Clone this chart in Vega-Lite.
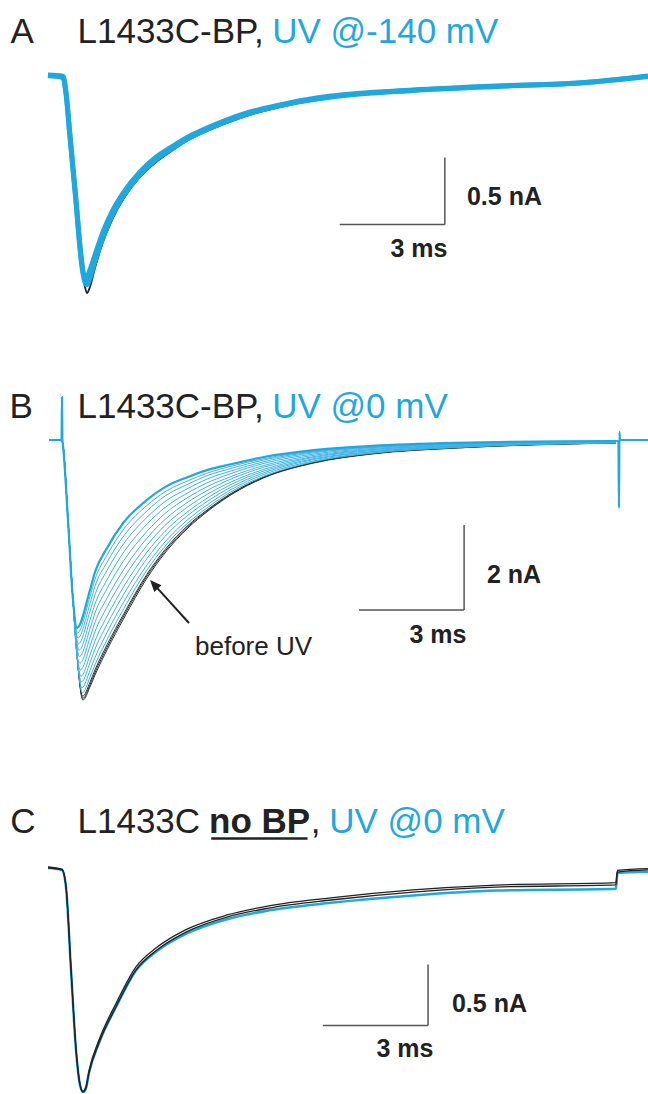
{
"$schema": "https://vega.github.io/schema/vega-lite/v6.json",
"padding": 0,
"spacing": 0,
"bounds": "flush",
"background": "white",
"config": {"view": {"stroke": null}, "axis": {"disable": true}, "legend": {"disable": true}, "line": {"interpolate": "monotone"}},
"datasets": {
"A_pre": [
{"t":-0.43,"I":0.007},{"t":-0.002,"I":-0.015},{"t":0.084,"I":-0.134},{"t":0.198,"I":-0.47},{"t":0.37,"I":-0.955},{"t":0.512,"I":-1.381},{"t":0.626,"I":-1.567},{"t":0.684,"I":-1.612},{"t":0.769,"I":-1.567},{"t":0.912,"I":-1.425},{"t":1.14,"I":-1.231},{"t":1.397,"I":-1.067},{"t":1.74,"I":-0.903},{"t":2.197,"I":-0.746},{"t":2.625,"I":-0.642},{"t":3.139,"I":-0.545},{"t":3.624,"I":-0.463},{"t":4.109,"I":-0.403},{"t":5.051,"I":-0.306},{"t":6.45,"I":-0.209},{"t":7.649,"I":-0.157},{"t":9.99,"I":-0.104},{"t":12.359,"I":-0.075},{"t":14.729,"I":-0.045},{"t":16.699,"I":0}
],
"A_uv": [
{"trace":"u1","t":-0.43,"I":0.01},{"trace":"u1","t":-0.002,"I":0},{"trace":"u1","t":0.084,"I":-0.123},{"trace":"u1","t":0.198,"I":-0.45},{"trace":"u1","t":0.37,"I":-0.935},{"trace":"u1","t":0.512,"I":-1.355},{"trace":"u1","t":0.626,"I":-1.53},{"trace":"u1","t":0.684,"I":-1.55},{"trace":"u1","t":0.769,"I":-1.5},{"trace":"u1","t":0.912,"I":-1.375},{"trace":"u1","t":1.14,"I":-1.195},{"trace":"u1","t":1.397,"I":-1.035},{"trace":"u1","t":1.74,"I":-0.88},{"trace":"u1","t":2.197,"I":-0.727},{"trace":"u1","t":2.625,"I":-0.623},{"trace":"u1","t":3.139,"I":-0.53},{"trace":"u1","t":3.624,"I":-0.452},{"trace":"u1","t":4.109,"I":-0.392},{"trace":"u1","t":5.051,"I":-0.295},{"trace":"u1","t":6.45,"I":-0.2},{"trace":"u1","t":7.649,"I":-0.15},{"trace":"u1","t":9.99,"I":-0.1},{"trace":"u1","t":12.359,"I":-0.07},{"trace":"u1","t":14.729,"I":-0.045},{"trace":"u1","t":16.699,"I":0.004},
{"trace":"u2","t":-0.43,"I":0.015},{"trace":"u2","t":-0.002,"I":0.007},{"trace":"u2","t":0.084,"I":-0.112},{"trace":"u2","t":0.198,"I":-0.433},{"trace":"u2","t":0.37,"I":-0.918},{"trace":"u2","t":0.512,"I":-1.328},{"trace":"u2","t":0.598,"I":-1.485},{"trace":"u2","t":0.655,"I":-1.5},{"trace":"u2","t":0.769,"I":-1.44},{"trace":"u2","t":0.912,"I":-1.328},{"trace":"u2","t":1.14,"I":-1.157},{"trace":"u2","t":1.397,"I":-1.007},{"trace":"u2","t":1.74,"I":-0.858},{"trace":"u2","t":2.197,"I":-0.709},{"trace":"u2","t":2.625,"I":-0.604},{"trace":"u2","t":3.139,"I":-0.515},{"trace":"u2","t":3.624,"I":-0.44},{"trace":"u2","t":4.109,"I":-0.381},{"trace":"u2","t":5.051,"I":-0.284},{"trace":"u2","t":6.45,"I":-0.194},{"trace":"u2","t":7.649,"I":-0.142},{"trace":"u2","t":9.99,"I":-0.097},{"trace":"u2","t":12.359,"I":-0.067},{"trace":"u2","t":14.729,"I":-0.045},{"trace":"u2","t":16.699,"I":0.007}
],
"B_pre": [
{"trace":"p1","t":-0.401,"I":0},{"trace":"p1","t":-0.042,"I":0},{"trace":"p1","t":-0.002,"I":-0.118},{"trace":"p1","t":0.141,"I":-1.882},{"trace":"p1","t":0.284,"I":-3.765},{"trace":"p1","t":0.398,"I":-5.059},{"trace":"p1","t":0.569,"I":-6.12},{"trace":"p1","t":0.769,"I":-5.81},{"trace":"p1","t":0.912,"I":-5.53},{"trace":"p1","t":1.255,"I":-4.94},{"trace":"p1","t":1.74,"I":-4.19},{"trace":"p1","t":2.396,"I":-3.25},{"trace":"p1","t":2.91,"I":-2.66},{"trace":"p1","t":3.567,"I":-2.07},{"trace":"p1","t":4.109,"I":-1.69},{"trace":"p1","t":4.794,"I":-1.29},{"trace":"p1","t":5.736,"I":-0.89},{"trace":"p1","t":7.164,"I":-0.54},{"trace":"p1","t":8.82,"I":-0.33},{"trace":"p1","t":11.189,"I":-0.19},{"trace":"p1","t":15.785,"I":-0.07},
{"trace":"p2","t":-0.401,"I":0},{"trace":"p2","t":-0.042,"I":0},{"trace":"p2","t":-0.002,"I":-0.118},{"trace":"p2","t":0.141,"I":-1.882},{"trace":"p2","t":0.284,"I":-3.765},{"trace":"p2","t":0.398,"I":-5.059},{"trace":"p2","t":0.565,"I":-6.08},{"trace":"p2","t":0.769,"I":-5.76},{"trace":"p2","t":0.912,"I":-5.47},{"trace":"p2","t":1.255,"I":-4.88},{"trace":"p2","t":1.74,"I":-4.13},{"trace":"p2","t":2.396,"I":-3.2},{"trace":"p2","t":2.91,"I":-2.62},{"trace":"p2","t":3.567,"I":-2.04},{"trace":"p2","t":4.109,"I":-1.67},{"trace":"p2","t":4.794,"I":-1.28},{"trace":"p2","t":5.736,"I":-0.88},{"trace":"p2","t":7.164,"I":-0.53},{"trace":"p2","t":8.82,"I":-0.32},{"trace":"p2","t":11.189,"I":-0.19},{"trace":"p2","t":15.785,"I":-0.07},
{"trace":"p3","t":-0.401,"I":0},{"trace":"p3","t":-0.042,"I":0},{"trace":"p3","t":-0.002,"I":-0.118},{"trace":"p3","t":0.141,"I":-1.882},{"trace":"p3","t":0.284,"I":-3.765},{"trace":"p3","t":0.398,"I":-5.059},{"trace":"p3","t":0.56,"I":-6.03},{"trace":"p3","t":0.769,"I":-5.7},{"trace":"p3","t":0.912,"I":-5.41},{"trace":"p3","t":1.255,"I":-4.82},{"trace":"p3","t":1.74,"I":-4.08},{"trace":"p3","t":2.396,"I":-3.16},{"trace":"p3","t":2.91,"I":-2.58},{"trace":"p3","t":3.567,"I":-2.01},{"trace":"p3","t":4.109,"I":-1.65},{"trace":"p3","t":4.794,"I":-1.26},{"trace":"p3","t":5.736,"I":-0.87},{"trace":"p3","t":7.164,"I":-0.53},{"trace":"p3","t":8.82,"I":-0.32},{"trace":"p3","t":11.189,"I":-0.18},{"trace":"p3","t":15.785,"I":-0.07}
],
"B_uv": [
{"trace":"u01","t":-0.401,"I":0},{"trace":"u01","t":-0.042,"I":0},{"trace":"u01","t":-0.002,"I":-0.118},{"trace":"u01","t":0.141,"I":-1.882},{"trace":"u01","t":0.284,"I":-3.765},{"trace":"u01","t":0.398,"I":-5.059},{"trace":"u01","t":0.552,"I":-5.95},{"trace":"u01","t":0.769,"I":-5.58},{"trace":"u01","t":0.912,"I":-5.29},{"trace":"u01","t":1.255,"I":-4.7},{"trace":"u01","t":1.74,"I":-3.96},{"trace":"u01","t":2.396,"I":-3.06},{"trace":"u01","t":2.91,"I":-2.5},{"trace":"u01","t":3.567,"I":-1.95},{"trace":"u01","t":4.109,"I":-1.6},{"trace":"u01","t":4.794,"I":-1.22},{"trace":"u01","t":5.736,"I":-0.85},{"trace":"u01","t":7.164,"I":-0.51},{"trace":"u01","t":8.82,"I":-0.31},{"trace":"u01","t":11.189,"I":-0.18},{"trace":"u01","t":15.785,"I":-0.07},
{"trace":"u02","t":-0.401,"I":0},{"trace":"u02","t":-0.042,"I":0},{"trace":"u02","t":-0.002,"I":-0.118},{"trace":"u02","t":0.141,"I":-1.882},{"trace":"u02","t":0.284,"I":-3.765},{"trace":"u02","t":0.398,"I":-5.059},{"trace":"u02","t":0.54,"I":-5.83},{"trace":"u02","t":0.769,"I":-5.42},{"trace":"u02","t":0.912,"I":-5.12},{"trace":"u02","t":1.255,"I":-4.53},{"trace":"u02","t":1.74,"I":-3.8},{"trace":"u02","t":2.396,"I":-2.94},{"trace":"u02","t":2.91,"I":-2.4},{"trace":"u02","t":3.567,"I":-1.87},{"trace":"u02","t":4.109,"I":-1.53},{"trace":"u02","t":4.794,"I":-1.17},{"trace":"u02","t":5.736,"I":-0.81},{"trace":"u02","t":7.164,"I":-0.49},{"trace":"u02","t":8.82,"I":-0.3},{"trace":"u02","t":11.189,"I":-0.17},{"trace":"u02","t":15.785,"I":-0.06},
{"trace":"u03","t":-0.401,"I":0},{"trace":"u03","t":-0.042,"I":0},{"trace":"u03","t":-0.002,"I":-0.118},{"trace":"u03","t":0.141,"I":-1.882},{"trace":"u03","t":0.284,"I":-3.765},{"trace":"u03","t":0.398,"I":-5.059},{"trace":"u03","t":0.526,"I":-5.69},{"trace":"u03","t":0.769,"I":-5.24},{"trace":"u03","t":0.912,"I":-4.92},{"trace":"u03","t":1.255,"I":-4.34},{"trace":"u03","t":1.74,"I":-3.62},{"trace":"u03","t":2.396,"I":-2.79},{"trace":"u03","t":2.91,"I":-2.27},{"trace":"u03","t":3.567,"I":-1.77},{"trace":"u03","t":4.109,"I":-1.45},{"trace":"u03","t":4.794,"I":-1.11},{"trace":"u03","t":5.736,"I":-0.77},{"trace":"u03","t":7.164,"I":-0.46},{"trace":"u03","t":8.82,"I":-0.28},{"trace":"u03","t":11.189,"I":-0.16},{"trace":"u03","t":15.785,"I":-0.06},
{"trace":"u04","t":-0.401,"I":0},{"trace":"u04","t":-0.042,"I":0},{"trace":"u04","t":-0.002,"I":-0.118},{"trace":"u04","t":0.141,"I":-1.882},{"trace":"u04","t":0.284,"I":-3.765},{"trace":"u04","t":0.398,"I":-5.059},{"trace":"u04","t":0.512,"I":-5.56},{"trace":"u04","t":0.769,"I":-5.06},{"trace":"u04","t":0.912,"I":-4.73},{"trace":"u04","t":1.255,"I":-4.15},{"trace":"u04","t":1.74,"I":-3.44},{"trace":"u04","t":2.396,"I":-2.64},{"trace":"u04","t":2.91,"I":-2.15},{"trace":"u04","t":3.567,"I":-1.68},{"trace":"u04","t":4.109,"I":-1.37},{"trace":"u04","t":4.794,"I":-1.05},{"trace":"u04","t":5.736,"I":-0.73},{"trace":"u04","t":7.164,"I":-0.44},{"trace":"u04","t":8.82,"I":-0.27},{"trace":"u04","t":11.189,"I":-0.15},{"trace":"u04","t":15.785,"I":-0.055},
{"trace":"u05","t":-0.401,"I":0},{"trace":"u05","t":-0.042,"I":0},{"trace":"u05","t":-0.002,"I":-0.118},{"trace":"u05","t":0.141,"I":-1.882},{"trace":"u05","t":0.284,"I":-3.765},{"trace":"u05","t":0.398,"I":-5.059},{"trace":"u05","t":0.497,"I":-5.41},{"trace":"u05","t":0.769,"I":-4.85},{"trace":"u05","t":0.912,"I":-4.51},{"trace":"u05","t":1.255,"I":-3.93},{"trace":"u05","t":1.74,"I":-3.24},{"trace":"u05","t":2.396,"I":-2.48},{"trace":"u05","t":2.91,"I":-2.01},{"trace":"u05","t":3.567,"I":-1.57},{"trace":"u05","t":4.109,"I":-1.28},{"trace":"u05","t":4.794,"I":-0.99},{"trace":"u05","t":5.736,"I":-0.69},{"trace":"u05","t":7.164,"I":-0.41},{"trace":"u05","t":8.82,"I":-0.25},{"trace":"u05","t":11.189,"I":-0.14},{"trace":"u05","t":15.785,"I":-0.05},
{"trace":"u06","t":-0.401,"I":0},{"trace":"u06","t":-0.042,"I":0},{"trace":"u06","t":-0.002,"I":-0.118},{"trace":"u06","t":0.141,"I":-1.882},{"trace":"u06","t":0.284,"I":-3.765},{"trace":"u06","t":0.398,"I":-5.059},{"trace":"u06","t":0.482,"I":-5.25},{"trace":"u06","t":0.769,"I":-4.65},{"trace":"u06","t":0.912,"I":-4.29},{"trace":"u06","t":1.255,"I":-3.72},{"trace":"u06","t":1.74,"I":-3.04},{"trace":"u06","t":2.396,"I":-2.31},{"trace":"u06","t":2.91,"I":-1.87},{"trace":"u06","t":3.567,"I":-1.46},{"trace":"u06","t":4.109,"I":-1.19},{"trace":"u06","t":4.794,"I":-0.92},{"trace":"u06","t":5.736,"I":-0.64},{"trace":"u06","t":7.164,"I":-0.39},{"trace":"u06","t":8.82,"I":-0.23},{"trace":"u06","t":11.189,"I":-0.13},{"trace":"u06","t":15.785,"I":-0.047},
{"trace":"u07","t":-0.401,"I":0},{"trace":"u07","t":-0.042,"I":0},{"trace":"u07","t":-0.002,"I":-0.118},{"trace":"u07","t":0.141,"I":-1.882},{"trace":"u07","t":0.284,"I":-3.765},{"trace":"u07","t":0.466,"I":-5.1},{"trace":"u07","t":0.769,"I":-4.44},{"trace":"u07","t":0.912,"I":-4.07},{"trace":"u07","t":1.255,"I":-3.5},{"trace":"u07","t":1.74,"I":-2.83},{"trace":"u07","t":2.396,"I":-2.15},{"trace":"u07","t":2.91,"I":-1.73},{"trace":"u07","t":3.567,"I":-1.35},{"trace":"u07","t":4.109,"I":-1.1},{"trace":"u07","t":4.794,"I":-0.86},{"trace":"u07","t":5.736,"I":-0.6},{"trace":"u07","t":7.164,"I":-0.36},{"trace":"u07","t":8.82,"I":-0.22},{"trace":"u07","t":11.189,"I":-0.12},{"trace":"u07","t":15.785,"I":-0.043},
{"trace":"u08","t":-0.401,"I":0},{"trace":"u08","t":-0.042,"I":0},{"trace":"u08","t":-0.002,"I":-0.118},{"trace":"u08","t":0.141,"I":-1.882},{"trace":"u08","t":0.284,"I":-3.765},{"trace":"u08","t":0.451,"I":-4.95},{"trace":"u08","t":0.769,"I":-4.24},{"trace":"u08","t":0.912,"I":-3.86},{"trace":"u08","t":1.255,"I":-3.29},{"trace":"u08","t":1.74,"I":-2.63},{"trace":"u08","t":2.396,"I":-1.98},{"trace":"u08","t":2.91,"I":-1.59},{"trace":"u08","t":3.567,"I":-1.24},{"trace":"u08","t":4.109,"I":-1.01},{"trace":"u08","t":4.794,"I":-0.79},{"trace":"u08","t":5.736,"I":-0.55},{"trace":"u08","t":7.164,"I":-0.33},{"trace":"u08","t":8.82,"I":-0.2},{"trace":"u08","t":11.189,"I":-0.11},{"trace":"u08","t":15.785,"I":-0.039},
{"trace":"u09","t":-0.401,"I":0},{"trace":"u09","t":-0.042,"I":0},{"trace":"u09","t":-0.002,"I":-0.118},{"trace":"u09","t":0.141,"I":-1.882},{"trace":"u09","t":0.284,"I":-3.765},{"trace":"u09","t":0.435,"I":-4.8},{"trace":"u09","t":0.769,"I":-4.03},{"trace":"u09","t":0.912,"I":-3.64},{"trace":"u09","t":1.255,"I":-3.07},{"trace":"u09","t":1.74,"I":-2.43},{"trace":"u09","t":2.396,"I":-1.82},{"trace":"u09","t":2.91,"I":-1.45},{"trace":"u09","t":3.567,"I":-1.14},{"trace":"u09","t":4.109,"I":-0.92},{"trace":"u09","t":4.794,"I":-0.73},{"trace":"u09","t":5.736,"I":-0.51},{"trace":"u09","t":7.164,"I":-0.3},{"trace":"u09","t":8.82,"I":-0.18},{"trace":"u09","t":11.189,"I":-0.1},{"trace":"u09","t":15.785,"I":-0.034},
{"trace":"u10","t":-0.401,"I":0},{"trace":"u10","t":-0.042,"I":0},{"trace":"u10","t":-0.002,"I":-0.118},{"trace":"u10","t":0.141,"I":-1.882},{"trace":"u10","t":0.284,"I":-3.765},{"trace":"u10","t":0.422,"I":-4.66},{"trace":"u10","t":0.769,"I":-3.85},{"trace":"u10","t":0.912,"I":-3.44},{"trace":"u10","t":1.255,"I":-2.88},{"trace":"u10","t":1.74,"I":-2.25},{"trace":"u10","t":2.396,"I":-1.67},{"trace":"u10","t":2.91,"I":-1.32},{"trace":"u10","t":3.567,"I":-1.04},{"trace":"u10","t":4.109,"I":-0.84},{"trace":"u10","t":4.794,"I":-0.67},{"trace":"u10","t":5.736,"I":-0.47},{"trace":"u10","t":7.164,"I":-0.28},{"trace":"u10","t":8.82,"I":-0.17},{"trace":"u10","t":11.189,"I":-0.09},{"trace":"u10","t":15.785,"I":-0.03},
{"trace":"u11","t":-0.401,"I":0},{"trace":"u11","t":-0.042,"I":0},{"trace":"u11","t":-0.002,"I":-0.118},{"trace":"u11","t":0.141,"I":-1.882},{"trace":"u11","t":0.284,"I":-3.765},{"trace":"u11","t":0.41,"I":-4.54},{"trace":"u11","t":0.769,"I":-3.69},{"trace":"u11","t":0.912,"I":-3.28},{"trace":"u11","t":1.255,"I":-2.71},{"trace":"u11","t":1.74,"I":-2.09},{"trace":"u11","t":2.396,"I":-1.54},{"trace":"u11","t":2.91,"I":-1.22},{"trace":"u11","t":3.567,"I":-0.96},{"trace":"u11","t":4.109,"I":-0.78},{"trace":"u11","t":4.794,"I":-0.62},{"trace":"u11","t":5.736,"I":-0.44},{"trace":"u11","t":7.164,"I":-0.26},{"trace":"u11","t":8.82,"I":-0.15},{"trace":"u11","t":11.189,"I":-0.08},{"trace":"u11","t":15.785,"I":-0.027}
],
"B_top": [
{"t":-0.401,"I":0},{"t":-0.042,"I":0},{"t":-0.03,"I":1.01},{"t":-0.019,"I":0},{"t":-0.002,"I":-0.118},{"t":0.141,"I":-1.882},{"t":0.284,"I":-3.765},{"t":0.398,"I":-4.42},{"t":0.769,"I":-3.53},{"t":0.912,"I":-3.11},{"t":1.255,"I":-2.54},{"t":1.74,"I":-1.93},{"t":2.396,"I":-1.41},{"t":2.91,"I":-1.11},{"t":3.567,"I":-0.87},{"t":4.109,"I":-0.71},{"t":4.794,"I":-0.57},{"t":5.736,"I":-0.4},{"t":7.164,"I":-0.24},{"t":8.82,"I":-0.14},{"t":11.189,"I":-0.07},{"t":15.785,"I":-0.024},{"t":15.856,"I":-0.03},{"t":15.871,"I":-1.6},{"t":15.885,"I":0.19},{"t":15.899,"I":0},{"t":16.699,"I":0}
],
"C_pre": [
{"trace":"k1","t":-0.43,"I":0},{"trace":"k1","t":-0.03,"I":-0.016},{"trace":"k1","t":0.084,"I":-0.156},{"trace":"k1","t":0.227,"I":-0.836},{"trace":"k1","t":0.37,"I":-1.492},{"trace":"k1","t":0.484,"I":-1.779},{"trace":"k1","t":0.569,"I":-1.836},{"trace":"k1","t":0.655,"I":-1.803},{"trace":"k1","t":0.741,"I":-1.68},{"trace":"k1","t":1.026,"I":-1.434},{"trace":"k1","t":1.511,"I":-1.139},{"trace":"k1","t":2.082,"I":-0.836},{"trace":"k1","t":2.682,"I":-0.672},{"trace":"k1","t":3.51,"I":-0.525},{"trace":"k1","t":4.68,"I":-0.402},{"trace":"k1","t":5.879,"I":-0.328},{"trace":"k1","t":7.649,"I":-0.262},{"trace":"k1","t":9.99,"I":-0.197},{"trace":"k1","t":12.359,"I":-0.156},{"trace":"k1","t":15.785,"I":-0.139},{"trace":"k1","t":15.827,"I":-0.033},{"trace":"k1","t":16.699,"I":-0.016},
{"trace":"k2","t":-0.43,"I":0.01},{"trace":"k2","t":-0.03,"I":-0.01},{"trace":"k2","t":0.084,"I":-0.15},{"trace":"k2","t":0.227,"I":-0.82},{"trace":"k2","t":0.37,"I":-1.48},{"trace":"k2","t":0.484,"I":-1.77},{"trace":"k2","t":0.569,"I":-1.83},{"trace":"k2","t":0.655,"I":-1.79},{"trace":"k2","t":0.741,"I":-1.66},{"trace":"k2","t":1.026,"I":-1.41},{"trace":"k2","t":1.511,"I":-1.11},{"trace":"k2","t":2.082,"I":-0.81},{"trace":"k2","t":2.682,"I":-0.65},{"trace":"k2","t":3.51,"I":-0.505},{"trace":"k2","t":4.68,"I":-0.385},{"trace":"k2","t":5.879,"I":-0.31},{"trace":"k2","t":7.649,"I":-0.245},{"trace":"k2","t":9.99,"I":-0.18},{"trace":"k2","t":12.359,"I":-0.14},{"trace":"k2","t":15.785,"I":-0.12},{"trace":"k2","t":15.827,"I":-0.02},{"trace":"k2","t":16.699,"I":-0.005}
],
"C_uv": [
{"t":-0.43,"I":0},{"t":-0.03,"I":-0.016},{"t":0.084,"I":-0.156},{"t":0.227,"I":-0.836},{"t":0.37,"I":-1.492},{"t":0.484,"I":-1.779},{"t":0.569,"I":-1.836},{"t":0.655,"I":-1.803},{"t":0.741,"I":-1.68},{"t":1.026,"I":-1.434},{"t":1.511,"I":-1.139},{"t":2.082,"I":-0.84},{"t":2.682,"I":-0.68},{"t":3.51,"I":-0.54},{"t":4.68,"I":-0.42},{"t":5.879,"I":-0.347},{"t":7.649,"I":-0.285},{"t":9.99,"I":-0.225},{"t":12.359,"I":-0.185},{"t":15.785,"I":-0.17},{"t":15.827,"I":-0.04},{"t":16.699,"I":-0.03}
]
},
"vconcat": [
{
"width": 648, "height": 330,
"layer": [
{"data": {"name": "A_pre"}, "mark": {"type": "line", "color": "#222222", "strokeWidth": 1.8},
 "encoding": {"x": {"field": "t", "type": "quantitative", "scale": {"domain": [-1.8, 16.7], "nice": false, "zero": false}}, "y": {"field": "I", "type": "quantitative", "scale": {"domain": [-1.888, 0.575], "nice": false, "zero": false}}}},
{"data": {"name": "A_uv"}, "mark": {"type": "line", "color": "#1fa8e0", "strokeWidth": 5},
 "encoding": {"detail": {"field": "trace"}, "x": {"field": "t", "type": "quantitative", "scale": {"domain": [-1.8, 16.7], "nice": false, "zero": false}}, "y": {"field": "I", "type": "quantitative", "scale": {"domain": [-1.888, 0.575], "nice": false, "zero": false}}}},
{"data": {"values": [{}]}, "mark": {"type": "rule", "color": "#555555", "strokeWidth": 1.5},
 "encoding": {"x": {"datum": 7.9, "type": "quantitative", "scale": {"domain": [-1.8, 16.7], "nice": false, "zero": false}}, "x2": {"datum": 10.9}, "y": {"datum": -1.1, "type": "quantitative", "scale": {"domain": [-1.888, 0.575], "nice": false, "zero": false}}}},
{"data": {"values": [{}]}, "mark": {"type": "rule", "color": "#555555", "strokeWidth": 1.5},
 "encoding": {"x": {"datum": 10.9, "type": "quantitative", "scale": {"domain": [-1.8, 16.7], "nice": false, "zero": false}}, "y": {"datum": -0.6, "type": "quantitative", "scale": {"domain": [-1.888, 0.575], "nice": false, "zero": false}}, "y2": {"datum": -1.1}}},
{"data": {"values": [{}]}, "mark": {"type": "text", "text": "0.5 nA", "font": "Liberation Sans", "fontWeight": "bold", "fontSize": 25, "align": "left", "baseline": "alphabetic", "color": "#222222"},
 "encoding": {"x": {"datum": 11.531, "type": "quantitative", "scale": {"domain": [-1.8, 16.7], "nice": false, "zero": false}}, "y": {"datum": -0.955, "type": "quantitative", "scale": {"domain": [-1.888, 0.575], "nice": false, "zero": false}}}},
{"data": {"values": [{}]}, "mark": {"type": "text", "text": "3 ms", "font": "Liberation Sans", "fontWeight": "bold", "fontSize": 25, "align": "center", "baseline": "alphabetic", "color": "#222222"},
 "encoding": {"x": {"datum": 10.161, "type": "quantitative", "scale": {"domain": [-1.8, 16.7], "nice": false, "zero": false}}, "y": {"datum": -1.343, "type": "quantitative", "scale": {"domain": [-1.888, 0.575], "nice": false, "zero": false}}}},
{"data": {"values": [{}]}, "mark": {"type": "text", "text": "A", "font": "Liberation Sans", "fontSize": 35, "align": "left", "baseline": "alphabetic", "color": "#222222"},
 "encoding": {"x": {"datum": -1.5, "type": "quantitative", "scale": {"domain": [-1.8, 16.7], "nice": false, "zero": false}}, "y": {"datum": 0.254, "type": "quantitative", "scale": {"domain": [-1.888, 0.575], "nice": false, "zero": false}}}},
{"data": {"values": [{}]}, "mark": {"type": "text", "text": "L1433C-BP,", "font": "Liberation Sans", "fontSize": 35, "align": "left", "baseline": "alphabetic", "color": "#222222"},
 "encoding": {"x": {"datum": 0.412, "type": "quantitative", "scale": {"domain": [-1.8, 16.7], "nice": false, "zero": false}}, "y": {"datum": 0.254, "type": "quantitative", "scale": {"domain": [-1.888, 0.575], "nice": false, "zero": false}}}},
{"data": {"values": [{}]}, "mark": {"type": "text", "text": "UV @-140 mV", "font": "Liberation Sans", "fontSize": 35, "align": "left", "baseline": "alphabetic", "color": "#1fa8e0"},
 "encoding": {"x": {"datum": 5.971, "type": "quantitative", "scale": {"domain": [-1.8, 16.7], "nice": false, "zero": false}}, "y": {"datum": 0.254, "type": "quantitative", "scale": {"domain": [-1.888, 0.575], "nice": false, "zero": false}}}}
]
},
{
"width": 648, "height": 400,
"layer": [
{"data": {"name": "B_pre"}, "mark": {"type": "line", "color": "#333333", "strokeWidth": 1},
 "encoding": {"detail": {"field": "trace"}, "x": {"field": "t", "type": "quantitative", "scale": {"domain": [-1.8, 16.7], "nice": false, "zero": false}}, "y": {"field": "I", "type": "quantitative", "scale": {"domain": [-6.824, 2.588], "nice": false, "zero": false}}}},
{"data": {"name": "B_uv"}, "mark": {"type": "line", "color": "#3fb2e4", "strokeWidth": 1},
 "encoding": {"detail": {"field": "trace"}, "x": {"field": "t", "type": "quantitative", "scale": {"domain": [-1.8, 16.7], "nice": false, "zero": false}}, "y": {"field": "I", "type": "quantitative", "scale": {"domain": [-6.824, 2.588], "nice": false, "zero": false}}}},
{"data": {"name": "B_top"}, "mark": {"type": "line", "color": "#1fa8e0", "strokeWidth": 2.2},
 "encoding": {"x": {"field": "t", "type": "quantitative", "scale": {"domain": [-1.8, 16.7], "nice": false, "zero": false}}, "y": {"field": "I", "type": "quantitative", "scale": {"domain": [-6.824, 2.588], "nice": false, "zero": false}}}},
{"data": {"values": [{}]}, "mark": {"type": "rule", "color": "#555555", "strokeWidth": 1.5},
 "encoding": {"x": {"datum": 8.45, "type": "quantitative", "scale": {"domain": [-1.8, 16.7], "nice": false, "zero": false}}, "x2": {"datum": 11.45}, "y": {"datum": -4.0, "type": "quantitative", "scale": {"domain": [-6.824, 2.588], "nice": false, "zero": false}}}},
{"data": {"values": [{}]}, "mark": {"type": "rule", "color": "#555555", "strokeWidth": 1.5},
 "encoding": {"x": {"datum": 11.45, "type": "quantitative", "scale": {"domain": [-1.8, 16.7], "nice": false, "zero": false}}, "y": {"datum": -2.0, "type": "quantitative", "scale": {"domain": [-6.824, 2.588], "nice": false, "zero": false}}, "y2": {"datum": -4.0}}},
{"data": {"values": [{}]}, "mark": {"type": "text", "text": "2 nA", "font": "Liberation Sans", "fontWeight": "bold", "fontSize": 25, "align": "left", "baseline": "alphabetic", "color": "#222222"},
 "encoding": {"x": {"datum": 12.102, "type": "quantitative", "scale": {"domain": [-1.8, 16.7], "nice": false, "zero": false}}, "y": {"datum": -3.365, "type": "quantitative", "scale": {"domain": [-6.824, 2.588], "nice": false, "zero": false}}}},
{"data": {"values": [{}]}, "mark": {"type": "text", "text": "3 ms", "font": "Liberation Sans", "fontWeight": "bold", "fontSize": 25, "align": "center", "baseline": "alphabetic", "color": "#222222"},
 "encoding": {"x": {"datum": 10.703, "type": "quantitative", "scale": {"domain": [-1.8, 16.7], "nice": false, "zero": false}}, "y": {"datum": -4.776, "type": "quantitative", "scale": {"domain": [-6.824, 2.588], "nice": false, "zero": false}}}},
{"data": {"values": [{}]}, "mark": {"type": "text", "text": "before UV", "font": "Liberation Sans", "fontSize": 26, "align": "left", "baseline": "alphabetic", "color": "#222222"},
 "encoding": {"x": {"datum": 3.767, "type": "quantitative", "scale": {"domain": [-1.8, 16.7], "nice": false, "zero": false}}, "y": {"datum": -5.059, "type": "quantitative", "scale": {"domain": [-6.824, 2.588], "nice": false, "zero": false}}}},
{"data": {"values": [{}]}, "mark": {"type": "rule", "color": "#222222", "strokeWidth": 2},
 "encoding": {"x": {"datum": 3.595, "type": "quantitative", "scale": {"domain": [-1.8, 16.7], "nice": false, "zero": false}}, "x2": {"datum": 2.673}, "y": {"datum": -4.306, "type": "quantitative", "scale": {"domain": [-6.824, 2.588], "nice": false, "zero": false}}, "y2": {"datum": -3.468}}},
{"data": {"values": [{}]}, "mark": {"type": "point", "shape": "M0,-1L0.75,0.8L-0.75,0.8Z", "filled": true, "size": 169, "angle": 317.8, "color": "#222222", "opacity": 1},
 "encoding": {"x": {"datum": 2.608, "type": "quantitative", "scale": {"domain": [-1.8, 16.7], "nice": false, "zero": false}}, "y": {"datum": -3.407, "type": "quantitative", "scale": {"domain": [-6.824, 2.588], "nice": false, "zero": false}}}},
{"data": {"values": [{}]}, "mark": {"type": "text", "text": "B", "font": "Liberation Sans", "fontSize": 35, "align": "left", "baseline": "alphabetic", "color": "#222222"},
 "encoding": {"x": {"datum": -1.529, "type": "quantitative", "scale": {"domain": [-1.8, 16.7], "nice": false, "zero": false}}, "y": {"datum": 0.518, "type": "quantitative", "scale": {"domain": [-6.824, 2.588], "nice": false, "zero": false}}}},
{"data": {"values": [{}]}, "mark": {"type": "text", "text": "L1433C-BP,", "font": "Liberation Sans", "fontSize": 35, "align": "left", "baseline": "alphabetic", "color": "#222222"},
 "encoding": {"x": {"datum": 0.412, "type": "quantitative", "scale": {"domain": [-1.8, 16.7], "nice": false, "zero": false}}, "y": {"datum": 0.518, "type": "quantitative", "scale": {"domain": [-6.824, 2.588], "nice": false, "zero": false}}}},
{"data": {"values": [{}]}, "mark": {"type": "text", "text": "UV @0 mV", "font": "Liberation Sans", "fontSize": 35, "align": "left", "baseline": "alphabetic", "color": "#1fa8e0"},
 "encoding": {"x": {"datum": 5.971, "type": "quantitative", "scale": {"domain": [-1.8, 16.7], "nice": false, "zero": false}}, "y": {"datum": 0.518, "type": "quantitative", "scale": {"domain": [-6.824, 2.588], "nice": false, "zero": false}}}}
]
},
{
"width": 648, "height": 364,
"layer": [
{"data": {"name": "C_uv"}, "mark": {"type": "line", "color": "#1fa8e0", "strokeWidth": 2.5},
 "encoding": {"x": {"field": "t", "type": "quantitative", "scale": {"domain": [-1.8, 16.7], "nice": false, "zero": false}}, "y": {"field": "I", "type": "quantitative", "scale": {"domain": [-1.852, 1.131], "nice": false, "zero": false}}}},
{"data": {"name": "C_pre"}, "mark": {"type": "line", "color": "#222222", "strokeWidth": 1.3},
 "encoding": {"detail": {"field": "trace"}, "x": {"field": "t", "type": "quantitative", "scale": {"domain": [-1.8, 16.7], "nice": false, "zero": false}}, "y": {"field": "I", "type": "quantitative", "scale": {"domain": [-1.852, 1.131], "nice": false, "zero": false}}}},
{"data": {"values": [{}]}, "mark": {"type": "rule", "color": "#555555", "strokeWidth": 1.5},
 "encoding": {"x": {"datum": 7.42, "type": "quantitative", "scale": {"domain": [-1.8, 16.7], "nice": false, "zero": false}}, "x2": {"datum": 10.42}, "y": {"datum": -1.29, "type": "quantitative", "scale": {"domain": [-1.852, 1.131], "nice": false, "zero": false}}}},
{"data": {"values": [{}]}, "mark": {"type": "rule", "color": "#555555", "strokeWidth": 1.5},
 "encoding": {"x": {"datum": 10.42, "type": "quantitative", "scale": {"domain": [-1.8, 16.7], "nice": false, "zero": false}}, "y": {"datum": -0.79, "type": "quantitative", "scale": {"domain": [-1.852, 1.131], "nice": false, "zero": false}}, "y2": {"datum": -1.29}}},
{"data": {"values": [{}]}, "mark": {"type": "text", "text": "0.5 nA", "font": "Liberation Sans", "fontWeight": "bold", "fontSize": 25, "align": "left", "baseline": "alphabetic", "color": "#222222"},
 "encoding": {"x": {"datum": 11.103, "type": "quantitative", "scale": {"domain": [-1.8, 16.7], "nice": false, "zero": false}}, "y": {"datum": -1.18, "type": "quantitative", "scale": {"domain": [-1.852, 1.131], "nice": false, "zero": false}}}},
{"data": {"values": [{}]}, "mark": {"type": "text", "text": "3 ms", "font": "Liberation Sans", "fontWeight": "bold", "fontSize": 25, "align": "center", "baseline": "alphabetic", "color": "#222222"},
 "encoding": {"x": {"datum": 9.762, "type": "quantitative", "scale": {"domain": [-1.8, 16.7], "nice": false, "zero": false}}, "y": {"datum": -1.549, "type": "quantitative", "scale": {"domain": [-1.852, 1.131], "nice": false, "zero": false}}}},
{"data": {"values": [{}]}, "mark": {"type": "text", "text": "C", "font": "Liberation Sans", "fontSize": 35, "align": "left", "baseline": "alphabetic", "color": "#222222"},
 "encoding": {"x": {"datum": -1.506, "type": "quantitative", "scale": {"domain": [-1.8, 16.7], "nice": false, "zero": false}}, "y": {"datum": 0.287, "type": "quantitative", "scale": {"domain": [-1.852, 1.131], "nice": false, "zero": false}}}},
{"data": {"values": [{}]}, "mark": {"type": "text", "text": "L1433C", "font": "Liberation Sans", "fontSize": 35, "align": "left", "baseline": "alphabetic", "color": "#222222"},
 "encoding": {"x": {"datum": 0.412, "type": "quantitative", "scale": {"domain": [-1.8, 16.7], "nice": false, "zero": false}}, "y": {"datum": 0.287, "type": "quantitative", "scale": {"domain": [-1.852, 1.131], "nice": false, "zero": false}}}},
{"data": {"values": [{}]}, "mark": {"type": "text", "text": "no BP", "font": "Liberation Sans", "fontWeight": "bold", "fontSize": 35, "align": "left", "baseline": "alphabetic", "color": "#222222"},
 "encoding": {"x": {"datum": 4.17, "type": "quantitative", "scale": {"domain": [-1.8, 16.7], "nice": false, "zero": false}}, "y": {"datum": 0.287, "type": "quantitative", "scale": {"domain": [-1.852, 1.131], "nice": false, "zero": false}}}},
{"data": {"values": [{}]}, "mark": {"type": "rule", "color": "#222222", "strokeWidth": 2.5},
 "encoding": {"x": {"datum": 4.23, "type": "quantitative", "scale": {"domain": [-1.8, 16.7], "nice": false, "zero": false}}, "x2": {"datum": 6.98}, "y": {"datum": 0.242, "type": "quantitative", "scale": {"domain": [-1.852, 1.131], "nice": false, "zero": false}}}},
{"data": {"values": [{}]}, "mark": {"type": "text", "text": ",", "font": "Liberation Sans", "fontSize": 35, "align": "left", "baseline": "alphabetic", "color": "#222222"},
 "encoding": {"x": {"datum": 7.07, "type": "quantitative", "scale": {"domain": [-1.8, 16.7], "nice": false, "zero": false}}, "y": {"datum": 0.287, "type": "quantitative", "scale": {"domain": [-1.852, 1.131], "nice": false, "zero": false}}}},
{"data": {"values": [{}]}, "mark": {"type": "text", "text": "UV @0 mV", "font": "Liberation Sans", "fontSize": 35, "align": "left", "baseline": "alphabetic", "color": "#1fa8e0"},
 "encoding": {"x": {"datum": 7.6, "type": "quantitative", "scale": {"domain": [-1.8, 16.7], "nice": false, "zero": false}}, "y": {"datum": 0.287, "type": "quantitative", "scale": {"domain": [-1.852, 1.131], "nice": false, "zero": false}}}}
]
}
]
}
